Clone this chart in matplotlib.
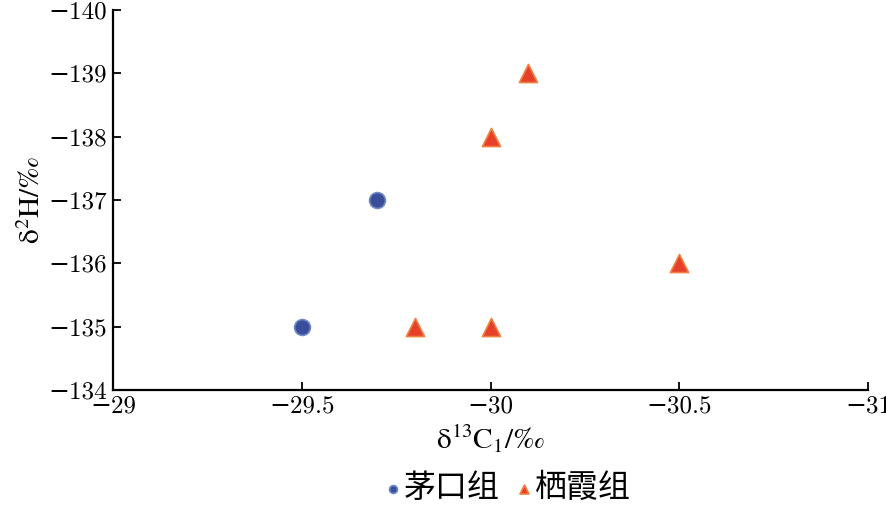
import matplotlib
matplotlib.use('Agg')
import matplotlib.pyplot as plt

plt.rcParams['font.family'] = ['cmr10', 'DejaVu Serif', 'Noto Sans CJK SC']
plt.rcParams['mathtext.fontset'] = 'cm'
plt.rcParams['axes.formatter.use_mathtext'] = True

# data
maokou_c13 = [-29.5, -29.7]
maokou_h2 = [-135, -137]
qixia_c13 = [-29.8, -30.0, -30.0, -30.1, -30.5]
qixia_h2 = [-135, -135, -138, -139, -136]

x_ticks = [-29, -29.5, -30, -30.5, -31]
x_tick_labels = ['−29', '−29.5', '−30', '−30.5', '−31']
y_ticks = [-134, -135, -136, -137, -138, -139, -140]

fig = plt.figure(figsize=(8.86, 5.11), dpi=100)
ax = fig.add_axes([0.1275, 0.2368, 0.8525, 0.7435])

ax.scatter(maokou_c13, maokou_h2, s=130, marker='o', color='#3a4d9a',
           edgecolors='#7089c6', linewidths=1.2, label='茅口组', zorder=3)
ax.scatter(qixia_c13, qixia_h2, s=170, marker='^', color='#e6402a',
           edgecolors='#f08040', linewidths=1.2, label='栖霞组', zorder=3)

ax.set_xlim(-29, -31)
ax.set_ylim(-134, -140)
ax.set_xticks(x_ticks)
ax.set_xticklabels(x_tick_labels)
ax.set_yticks(y_ticks)
ax.set_yticklabels(['−%d' % abs(v) for v in y_ticks])

ax.spines['top'].set_visible(False)
ax.spines['right'].set_visible(False)
for s in ['left', 'bottom']:
    ax.spines[s].set_linewidth(1.6)
ax.tick_params(direction='in', length=6, width=1.3, labelsize=18, pad=4)

# axis labels in a Times-like face (STIX ships with matplotlib)
ax.set_xlabel(r'δ$^{13}$C$_1$/‰', fontsize=21, labelpad=4,
              fontfamily='STIXGeneral', math_fontfamily='stix')
ax.set_ylabel(r'δ$^{2}$H/‰', fontsize=21, labelpad=2,
              fontfamily='STIXGeneral', math_fontfamily='stix')

h, l = ax.get_legend_handles_labels()
leg = fig.legend(h, l, loc='center', bbox_to_anchor=(0.573, 0.045), ncol=2,
                 frameon=False, markerscale=0.5,
                 handletextpad=0.1, columnspacing=0.5, handlelength=0.5,
                 borderpad=0.1, prop={'family': ['Noto Sans CJK SC'], 'size': 23})

fig.savefig('out.png', dpi=100)
